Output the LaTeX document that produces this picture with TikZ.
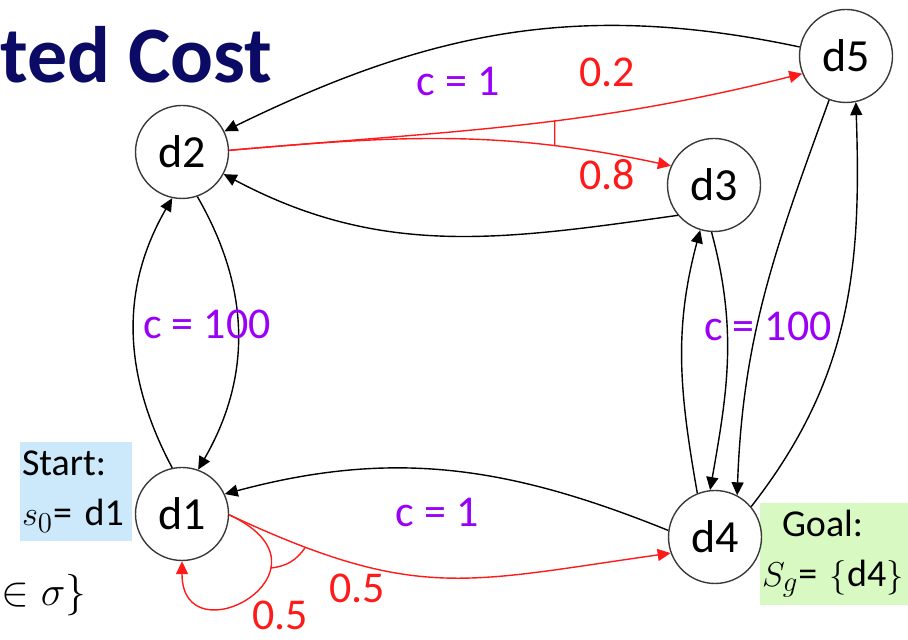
\documentclass[tikz,border=0pt]{standalone}
\usepackage{fontspec}
\setmainfont{Carlito}
\usetikzlibrary{arrows.meta}
\definecolor{titlenavy}{HTML}{0B0B66}
\definecolor{costviolet}{HTML}{9A00F5}
\definecolor{probred}{HTML}{FF1A1A}
\definecolor{startblue}{HTML}{CCE9FB}
\definecolor{goalgreen}{HTML}{D8FAC2}
\definecolor{ringgrey}{HTML}{3A3A3A}

\begin{document}
\begin{tikzpicture}[x=0.5pt,y=0.5pt,
      dnode/.style={circle,draw=ringgrey,line width=0.7pt,fill=white,
                    minimum size=46.5pt,inner sep=0pt,
                    font=\fontsize{23}{27}\selectfont},
      arr/.style={-{Triangle[length=6.5pt,width=6pt]},line width=0.7pt,black},
      parr/.style={-{Triangle[length=6.5pt,width=6pt]},line width=0.7pt,probred},
      cost/.style={font=\fontsize{22}{26}\selectfont,text=costviolet,inner sep=0pt},
      prob/.style={font=\fontsize{22}{26}\selectfont,text=probred,inner sep=0pt},
      note/.style={align=left,font=\fontsize{19}{25}\selectfont,inner sep=0pt}]
    \useasboundingbox (0,0) rectangle (908,640);
    % title and side notes
    \node[anchor=base west,inner sep=0pt,text=titlenavy,
          font=\bfseries\fontsize{40}{44}\selectfont] (title) at (0,557) {ted Cost};
    \node[font=\fontsize{22}{26}\selectfont,inner sep=0pt] (frag) at (44,45) {$\in\sigma\}$};
    \node[note,fill=startblue,minimum width=56pt,minimum height=49.5pt,
          text width=54pt] (start) at (76,148.5) {Start:\\$s_0$= d1};
    \node[note,fill=goalgreen,minimum width=74pt,minimum height=51pt,
          text width=72pt] (goal) at (834,86) {\hspace*{10pt}Goal:\\$S_g$= $\{$d4$\}$};
    % states
    \node[dnode] (d1) at (182,126) {d1};
    \node[dnode] (d2) at (182,488) {d2};
    \node[dnode] (d3) at (714,455) {d3};
    \node[dnode] (d4) at (715,103) {d4};
    \node[dnode] (d5) at (846,584) {d5};
    % deterministic actions
    \draw[arr] (d5.169) to[out=168,in=26] (d2.26);
    \draw[arr] (d3.220) to[out=188,in=-28] (d2.-28);
    \draw[arr] (d1.102) to[out=118,in=240] (d2.258);
    \draw[arr] (d2.289) to[out=-60,in=60] (d1.70);
    \draw[arr] (d4.172) to[out=158,in=15] (d1.25);
    \draw[arr] (d4.112) to[out=100,in=255] (d3.253);
    \draw[arr] (d3.267) to[out=-75,in=80] (d4.96);
    \draw[arr] (d5.249) to[out=-110,in=88] (d4.62);
    \draw[arr] (d4.40) to[out=52,in=272] (d5.282);
    % probabilistic actions
    \draw[parr] (d2.2) to[out=5,in=194] coordinate[pos=0.57] (t5) (d5.202);
    \draw[parr] (d2.2) to[out=5,in=168] coordinate[pos=0.75] (t3) (d3.156);
    \draw[probred,line width=0.7pt] (t5) -- (t3);
    \draw[parr] (d1.-1) to[out=-25,in=188,looseness=1.2] coordinate[pos=0.15] (l4) (d4.200);
    \draw[parr] (d1.-1) .. controls +(-25:130) and +(-90:100) .. coordinate[pos=0.3] (l1) (d1.-90);
    \draw[probred,line width=0.7pt] (l1) to[bend right=25] (l4);
    % labels
    \node[cost] (c23) at (458,558) {c = 1};
    \node[prob] (p25) at (607,568) {0.2};
    \node[prob] (p23) at (607,465) {0.8};
    \node[cost] (c12) at (207,316) {c = 100};
    \node[cost] (c34) at (768,314) {c = 100};
    \node[cost] (c41) at (437,128) {c = 1};
    \node[prob] (p14) at (357,52) {0.5};
    \node[prob] (p11) at (280,25) {0.5};
  \end{tikzpicture}
\end{document}
